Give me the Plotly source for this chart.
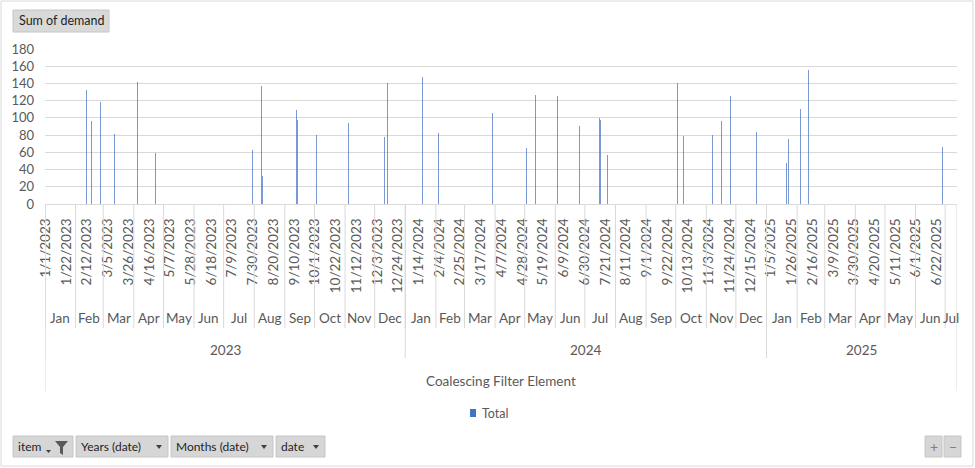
import datetime as dt
import plotly.graph_objects as go

# ---------------- data ----------------
start_date = "2023-01-01"
end_date = "2025-07-12"
item_name = "Coalescing Filter Element"
series_name = "Total"
value_field = "Sum of demand"

demand_dates = [
    "2023-02-12", "2023-02-17", "2023-02-26", "2023-03-12", "2023-04-04", "2023-04-22",
    "2023-07-30", "2023-08-08", "2023-08-09", "2023-09-12", "2023-09-13", "2023-10-03",
    "2023-11-04", "2023-12-10", "2023-12-14",
    "2024-01-18", "2024-02-03", "2024-03-29", "2024-05-02", "2024-05-11", "2024-06-03",
    "2024-06-25", "2024-07-15", "2024-07-16", "2024-07-23", "2024-10-02", "2024-10-08",
    "2024-11-07", "2024-11-16", "2024-11-25", "2024-12-21",
    "2025-01-21", "2025-01-23", "2025-02-04", "2025-02-12", "2025-06-28",
]
demand_values = [
    132, 96, 119, 81, 142, 59,
    63, 137, 32, 109, 97, 80,
    94, 78, 140,
    147, 82, 106, 65, 127, 126,
    91, 100, 97, 57, 140, 79,
    80, 96, 125, 84,
    48, 76, 110, 156, 66,
]

tick_labels = [
    "1/1/2023", "1/22/2023", "2/12/2023", "3/5/2023", "3/26/2023", "4/16/2023",
    "5/7/2023", "5/28/2023", "6/18/2023", "7/9/2023", "7/30/2023", "8/20/2023",
    "9/10/2023", "10/1/2023", "10/22/2023", "11/12/2023", "12/3/2023", "12/24/2023",
    "1/14/2024", "2/4/2024", "2/25/2024", "3/17/2024", "4/7/2024", "4/28/2024",
    "5/19/2024", "6/9/2024", "6/30/2024", "7/21/2024", "8/11/2024", "9/1/2024",
    "9/22/2024", "10/13/2024", "11/3/2024", "11/24/2024", "12/15/2024", "1/5/2025",
    "1/26/2025", "2/16/2025", "3/9/2025", "3/30/2025", "4/20/2025", "5/11/2025",
    "6/1/2025", "6/22/2025",
]
month_names = ["Jan", "Feb", "Mar", "Apr", "May", "Jun",
               "Jul", "Aug", "Sep", "Oct", "Nov", "Dec"]
y_ticks = [0, 20, 40, 60, 80, 100, 120, 140, 160, 180]
filter_buttons = ["item", "Years (date)", "Months (date)", "date"]

# ---------------- categories ----------------
d0 = dt.date.fromisoformat(start_date)
d1 = dt.date.fromisoformat(end_date)
days = [d0 + dt.timedelta(days=i) for i in range(((d1 - d0).days) + 1)]
N = len(days)
index_of = {d: i for i, d in enumerate(days)}

bar_x = [index_of[dt.date.fromisoformat(s)] for s in demand_dates]


def parse_mdy(s):
    m, d, y = s.split("/")
    return dt.date(int(y), int(m), int(d))


tick_vals = [index_of[parse_mdy(s)] for s in tick_labels]

# month and year groups
months = []
years = []
for i, d in enumerate(days):
    key = (d.year, d.month)
    if not months or months[-1][0] != key:
        months.append([key, i, i])
    else:
        months[-1][2] = i
    if not years or years[-1][0] != d.year:
        years.append([d.year, i, i])
    else:
        years[-1][2] = i

# ---------------- layout geometry ----------------
W, H = 975, 468
ML, MR, MT, MB = 45, 18, 49, 264
PW = W - ML - MR
PH = H - MT - MB
BOTTOM = MT + PH


def X(px):
    return (px - ML) / PW


def Y(py):
    return (BOTTOM - py) / PH


FONT = "Lato, 'Open Sans', sans-serif"
GRAY_TXT = "#595959"
LINE = "#d9d9d9"

fig = go.Figure()
fig.add_trace(go.Bar(
    x=bar_x, y=demand_values, name=series_name, width=1.0,
    marker=dict(color="rgba(68,114,196,0.72)", line=dict(width=0)),
    showlegend=False,
))

shapes = []
annotations = []

# month separators and labels
for (yr, mo), a, b in months:
    shapes.append(dict(type="line", xref="x", yref="paper", x0=a - 0.5, x1=a - 0.5,
                       y0=0, y1=Y(328), line=dict(color=LINE, width=1)))
    annotations.append(dict(xref="x", yref="paper", x=(a + b) / 2, y=Y(318),
                            text=month_names[mo - 1], showarrow=False,
                            xanchor="center", yanchor="middle",
                            font=dict(family=FONT, size=13.5, color=GRAY_TXT)))
# year separators and labels
for yr, a, b in years:
    shapes.append(dict(type="line", xref="x", yref="paper", x0=a - 0.5, x1=a - 0.5,
                       y0=0, y1=Y(358), line=dict(color=LINE, width=1)))
    annotations.append(dict(xref="x", yref="paper", x=(a + b) / 2, y=Y(350),
                            text=str(yr), showarrow=False,
                            xanchor="center", yanchor="middle",
                            font=dict(family=FONT, size=13.5, color=GRAY_TXT)))
# outer boundaries
for xv in (-0.5, N - 0.5):
    shapes.append(dict(type="line", xref="x", yref="paper", x0=xv, x1=xv,
                       y0=0, y1=Y(391), line=dict(color=LINE, width=1)))
annotations.append(dict(xref="x", yref="paper", x=(N - 1) / 2, y=Y(381),
                        text=item_name, showarrow=False, xanchor="center", yanchor="middle",
                        font=dict(family=FONT, size=13.5, color=GRAY_TXT)))

# legend
shapes.append(dict(type="rect", xref="paper", yref="paper", x0=X(470), x1=X(476),
                   y0=Y(417), y1=Y(409), fillcolor="#4472C4", line=dict(width=0)))
annotations.append(dict(xref="paper", yref="paper", x=X(480), y=Y(413), text=series_name,
                        showarrow=False, xanchor="left", yanchor="middle",
                        font=dict(family=FONT, size=12.5, color=GRAY_TXT)))

# outer chart border
shapes.append(dict(type="rect", xref="paper", yref="paper", x0=X(1), x1=X(973),
                   y0=Y(466), y1=Y(1), line=dict(color=LINE, width=1),
                   fillcolor="rgba(0,0,0,0)", layer="below"))

# "Sum of demand" field button
shapes.append(dict(type="rect", xref="paper", yref="paper", x0=X(13), x1=X(109),
                   y0=Y(32), y1=Y(10), fillcolor="#d9d9d9",
                   line=dict(color="#c6c6c6", width=1)))
annotations.append(dict(xref="paper", yref="paper", x=X(17), y=Y(21), text=value_field,
                        showarrow=False, xanchor="left", yanchor="middle",
                        font=dict(family=FONT, size=12.5, color="#1f1f1f")))

# bottom field buttons
btn_x = [(13, 73), (76, 168), (171, 273), (276, 325)]
for label, (a, b) in zip(filter_buttons, btn_x):
    shapes.append(dict(type="rect", xref="paper", yref="paper", x0=X(a), x1=X(b),
                       y0=Y(457), y1=Y(436), fillcolor="#d6d6d6",
                       line=dict(color="#c6c6c6", width=1)))
    annotations.append(dict(xref="paper", yref="paper", x=X(a + 3), y=Y(447), text=label,
                            showarrow=False, xanchor="left", yanchor="middle",
                            font=dict(family=FONT, size=12, color="#1f1f1f")))
    if label != "item":
        cx = b - 9
        shapes.append(dict(type="path", xref="paper", yref="paper",
                           path=f"M {X(cx-3)} {Y(445)} L {X(cx+3)} {Y(445)} L {X(cx)} {Y(449)} Z",
                           fillcolor="#404040", line=dict(width=0)))
# filter funnel + small arrow on the item button
shapes.append(dict(type="path", xref="paper", yref="paper",
                   path=(f"M {X(55)} {Y(441)} L {X(68)} {Y(441)} L {X(63)} {Y(447)} "
                         f"L {X(63)} {Y(455)} L {X(60)} {Y(453)} L {X(60)} {Y(447)} Z"),
                   fillcolor="#5a5a5a", line=dict(width=0)))
shapes.append(dict(type="path", xref="paper", yref="paper",
                   path=f"M {X(46)} {Y(450)} L {X(51)} {Y(450)} L {X(48.5)} {Y(453)} Z",
                   fillcolor="#404040", line=dict(width=0)))

# +/- buttons
for (a, b), t in zip([(925, 942), (944, 961)], ["+", "−"]):
    shapes.append(dict(type="rect", xref="paper", yref="paper", x0=X(a), x1=X(b),
                       y0=Y(457), y1=Y(436), fillcolor="#d6d6d6",
                       line=dict(color="#c6c6c6", width=1)))
    annotations.append(dict(xref="paper", yref="paper", x=X((a + b) / 2), y=Y(446.5), text=t,
                            showarrow=False, xanchor="center", yanchor="middle",
                            font=dict(family=FONT, size=14, color="#7f7f7f")))

fig.update_layout(
    width=W, height=H,
    margin=dict(l=ML, r=MR, t=MT, b=MB, pad=0),
    paper_bgcolor="white", plot_bgcolor="white",
    bargap=0,
    shapes=shapes, annotations=annotations,
    showlegend=False,
    xaxis=dict(
        type="linear", range=[-0.5, N - 0.5], tickmode="array",
        tickvals=tick_vals, ticktext=tick_labels, tickangle=-90,
        ticks="", showgrid=False, zeroline=False,
        showline=True, linecolor=LINE, linewidth=1,
        ticklabelstandoff=8,
        tickfont=dict(family=FONT, size=13.5, color=GRAY_TXT),
        fixedrange=True,
    ),
    yaxis=dict(
        range=[0, 180], tickmode="array", tickvals=y_ticks,
        showgrid=True, gridcolor=LINE, gridwidth=1.3, zeroline=False,
        ticks="", ticklabelstandoff=10,
        tickfont=dict(family=FONT, size=13, color=GRAY_TXT),
        fixedrange=True,
    ),
)

fig.write_html(
    "out.html",
    config={"displayModeBar": False},
    post_script="document.body.style.margin='0px';document.body.style.overflow='hidden';",
)
